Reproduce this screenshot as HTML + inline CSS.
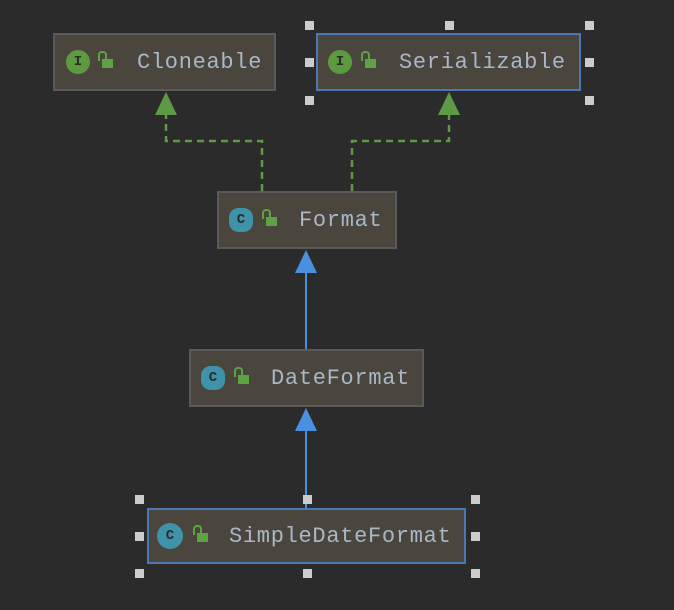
<!DOCTYPE html>
<html><head><style>
body{margin:0;width:674px;height:610px;background:#2b2b2b;overflow:hidden;position:relative;font-family:"Liberation Mono",monospace}
.b{position:absolute;background:#4a463d;border:2px solid #5a5a5a;box-sizing:border-box}
.sel{border-color:#4a78b0}
.t{position:absolute;top:0;height:100%;display:flex;align-items:center;color:#a9b7c6;font-size:22px;letter-spacing:0.7px}
.ic{position:absolute;top:50%;width:24px;height:24px;margin-top:-12px;border-radius:50%;display:flex;align-items:center;justify-content:center;font-size:14px;font-weight:bold;color:#2b2b2b}
.ii{background:#5b9a3e}
.cc{background:#3e93aa}
.lk{position:absolute;top:50%;margin-top:-3px;width:11px;height:9px;background:#5da342}
.lk:before{content:"";position:absolute;left:-4px;top:-8px;width:5px;height:8px;border:2px solid #5da342;border-bottom:none;border-radius:4px 4px 0 0}
.h{position:absolute;width:9px;height:9px;background:#ccc}
</style></head><body>
<svg width="674" height="610" style="position:absolute;left:0;top:0">
<g stroke="#5e9a45" stroke-width="2.5" fill="none" stroke-dasharray="7,5">
<polyline points="262,191 262,141 166,141 166,112"/>
<polyline points="352,191 352,141 449,141 449,112"/>
</g>
<polygon points="166,92 155,115 177,115" fill="#5e9a45"/>
<polygon points="449,92 438,115 460,115" fill="#5e9a45"/>
<g stroke="#4a90e0" stroke-width="2"><line x1="306" y1="270" x2="306" y2="349"/><line x1="306" y1="428" x2="306" y2="508"/></g>
<polygon points="306,250 295,273 317,273" fill="#4a90e0"/>
<polygon points="306,408 295,431 317,431" fill="#4a90e0"/>
</svg>
<div class="b" style="left:53px;top:33px;width:223px;height:58px"><div class="ic ii" style="left:11px">I</div><div class="lk" style="left:47px"></div><div class="t" style="left:82px">Cloneable</div></div>
<div class="b sel" style="left:316px;top:33px;width:265px;height:58px"><div class="ic ii" style="left:10px">I</div><div class="lk" style="left:47px"></div><div class="t" style="left:81px">Serializable</div></div>
<div class="b" style="left:217px;top:191px;width:180px;height:58px"><div class="ic cc" style="left:10px;border-radius:40%">C</div><div class="lk" style="left:47px"></div><div class="t" style="left:80px">Format</div></div>
<div class="b" style="left:189px;top:349px;width:235px;height:58px"><div class="ic cc" style="left:10px;border-radius:40%">C</div><div class="lk" style="left:47px"></div><div class="t" style="left:80px">DateFormat</div></div>
<div class="b sel" style="left:147px;top:508px;width:319px;height:56px"><div class="ic cc" style="left:8px;width:26px;height:26px;margin-top:-13px">C</div><div class="lk" style="left:48px"></div><div class="t" style="left:80px">SimpleDateFormat</div></div>
<div class="h" style="left:305px;top:21px"></div><div class="h" style="left:445px;top:21px"></div><div class="h" style="left:585px;top:21px"></div>
<div class="h" style="left:305px;top:58px"></div><div class="h" style="left:585px;top:58px"></div>
<div class="h" style="left:305px;top:96px"></div><div class="h" style="left:585px;top:96px"></div>
<div class="h" style="left:135px;top:495px"></div><div class="h" style="left:303px;top:495px"></div><div class="h" style="left:471px;top:495px"></div>
<div class="h" style="left:135px;top:532px"></div><div class="h" style="left:471px;top:532px"></div>
<div class="h" style="left:135px;top:569px"></div><div class="h" style="left:303px;top:569px"></div><div class="h" style="left:471px;top:569px"></div>
</body></html>
